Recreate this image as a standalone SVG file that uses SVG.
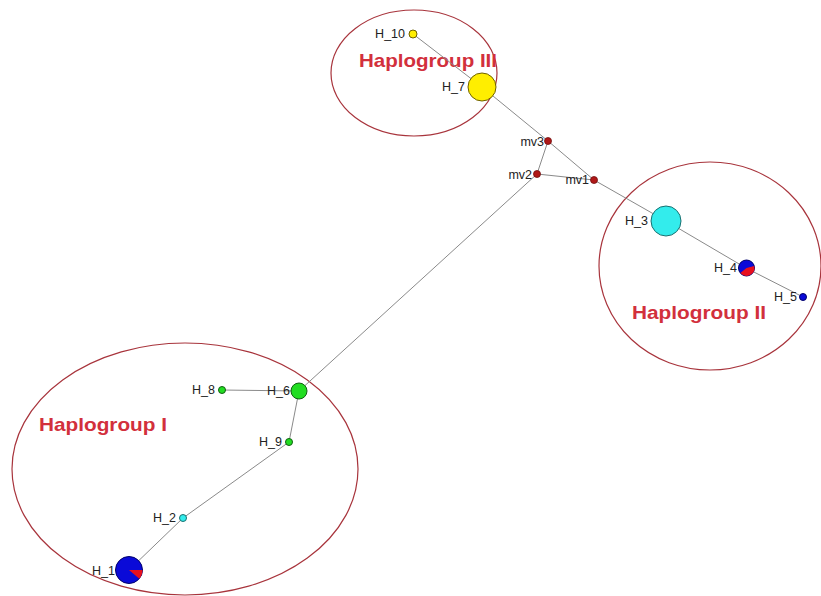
<svg xmlns="http://www.w3.org/2000/svg" width="821" height="596" viewBox="0 0 821 596">
<style>
.grp{fill:none;stroke:#a8343c;stroke-width:1.2}
.ttl{font-family:"Liberation Sans",Arial,sans-serif;font-weight:bold;font-size:19px;fill:#d2303c}
.lbl{font-family:"Liberation Sans",Arial,sans-serif;font-size:12.5px;fill:#222}
.e{stroke:#8a8a8a;stroke-width:1;fill:none}
.mv{fill:#b01818;stroke:#701010;stroke-width:0.8}
.yel{fill:#ffee00;stroke:#6e6000;stroke-width:1}
.cyn{fill:#33ecec;stroke:#1a7070;stroke-width:1}
.grn{fill:#22dd22;stroke:#106010;stroke-width:1}
.blu{fill:#0a0ad8;stroke:#00006a;stroke-width:1}
.red{fill:#e8101e}
</style>
<rect width="821" height="596" fill="#ffffff"/>
<g id="groups">
<ellipse class="grp" cx="414" cy="73" rx="83" ry="63"/>
<ellipse class="grp" cx="710" cy="266" rx="111" ry="104"/>
<ellipse class="grp" cx="185" cy="469" rx="173" ry="126"/>
<text class="ttl" x="359" y="67" textLength="138" lengthAdjust="spacingAndGlyphs">Haplogroup III</text>
<text class="ttl" x="632" y="319" textLength="134" lengthAdjust="spacingAndGlyphs">Haplogroup II</text>
<text class="ttl" x="39" y="431" textLength="128" lengthAdjust="spacingAndGlyphs">Haplogroup I</text>
</g>
<g id="connectors">
<line class="e" x1="413" y1="34" x2="482" y2="87"/>
<line class="e" x1="482" y1="87" x2="548" y2="141"/>
<line class="e" x1="548" y1="141" x2="594" y2="180"/>
<line class="e" x1="594" y1="180" x2="666" y2="221"/>
<line class="e" x1="666" y1="221" x2="746" y2="268"/>
<line class="e" x1="746" y1="268" x2="803" y2="297"/>
<line class="e" x1="548" y1="141" x2="537" y2="174"/>
<line class="e" x1="537" y1="174" x2="594" y2="180"/>
<line class="e" x1="537" y1="174" x2="299" y2="391"/>
<line class="e" x1="299" y1="391" x2="222" y2="390"/>
<line class="e" x1="299" y1="391" x2="289" y2="442"/>
<line class="e" x1="289" y1="442" x2="183" y2="518"/>
<line class="e" x1="183" y1="518" x2="129" y2="570"/>
</g>
<g id="H_10"><circle class="yel" cx="413" cy="34" r="4"/><text class="lbl" x="405" y="38" text-anchor="end">H_10</text></g>
<g id="H_7"><circle class="yel" cx="482" cy="87" r="14"/><text class="lbl" x="465" y="91" text-anchor="end">H_7</text></g>
<g id="mv3"><circle class="mv" cx="548" cy="141" r="3.5"/><text class="lbl" x="544" y="146" text-anchor="end">mv3</text></g>
<g id="mv2"><circle class="mv" cx="537" cy="174" r="3.5"/><text class="lbl" x="532" y="179" text-anchor="end">mv2</text></g>
<g id="mv1"><circle class="mv" cx="594" cy="180" r="3.5"/><text class="lbl" x="589" y="184" text-anchor="end">mv1</text></g>
<g id="H_3"><circle class="cyn" cx="666" cy="221" r="15"/><text class="lbl" x="648" y="225" text-anchor="end">H_3</text></g>
<g id="H_4"><circle class="blu" cx="746.5" cy="268" r="8"/><path class="red" d="M746.5,268 L754.2,265.9 A8,8 0 0 1 740.4,273.1 Z"/><text class="lbl" x="737" y="272" text-anchor="end">H_4</text></g>
<g id="H_5"><circle class="blu" cx="803" cy="297" r="3.5"/><text class="lbl" x="797" y="301" text-anchor="end">H_5</text></g>
<g id="H_6"><circle class="grn" cx="299" cy="391" r="8"/><text class="lbl" x="290" y="395" text-anchor="end">H_6</text></g>
<g id="H_8"><circle class="grn" cx="222" cy="390" r="3.5"/><text class="lbl" x="215" y="394" text-anchor="end">H_8</text></g>
<g id="H_9"><circle class="grn" cx="289" cy="442" r="3.5"/><text class="lbl" x="282" y="446" text-anchor="end">H_9</text></g>
<g id="H_2"><circle class="cyn" cx="183" cy="518" r="3.5"/><text class="lbl" x="176" y="522" text-anchor="end">H_2</text></g>
<g id="H_1"><circle class="blu" cx="129" cy="570" r="13.5"/><path class="red" d="M129,570 L142.5,570 A13.5,13.5 0 0 1 139.3,578.7 Z"/><text class="lbl" x="115" y="575" text-anchor="end">H_1</text></g>
</svg>
